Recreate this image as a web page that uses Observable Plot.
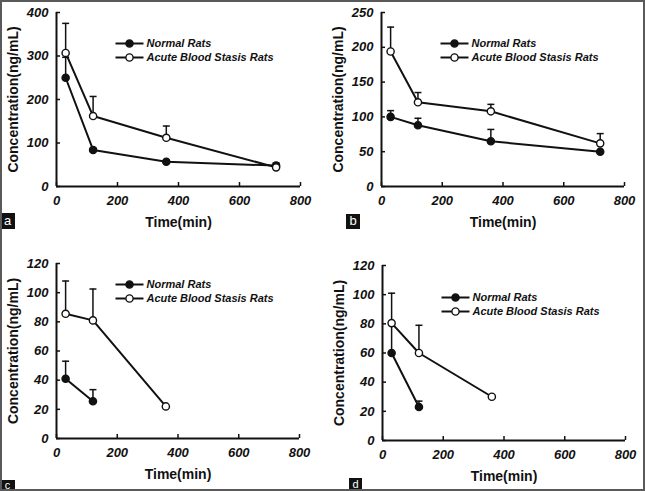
<!DOCTYPE html>
<html>
<head>
<meta charset="utf-8">
<script src="https://cdn.jsdelivr.net/npm/d3@7"></script>
<script src="https://cdn.jsdelivr.net/npm/@observablehq/plot@0.6"></script>
<style>
  html, body { margin: 0; padding: 0; background: #fff; }
  #fig { position: relative; width: 645px; height: 491px; overflow: hidden; background: #fff; font-family: "Liberation Sans", Arial, sans-serif; }
  .panel { position: absolute; }
  .frame { position: absolute; left: 0; top: 0; width: 645px; height: 491px; box-sizing: border-box; border: 2px solid #5a5a5a; pointer-events: none; }
  .tag { position: absolute; background: #111; color: #fff; font-size: 13px; line-height: 15px; text-align: center; font-family: "Liberation Sans", Arial, sans-serif; overflow: hidden; }
</style>
</head>
<body>
<div id="fig"></div>
<script>
// ---- data ----
const times = [30, 120, 360, 720];
const xTicks = [0, 200, 400, 600, 800];
const seriesNames = ["Normal Rats", "Acute Blood Stasis Rats"];

// panel a
const aNormal = [250, 84, 57, 48];
const aNormalErr = [297, 88, 60, 54];
const aAcute = [307, 162, 112, 44];
const aAcuteErr = [375, 207, 139, 46];
const aTicks = [0, 100, 200, 300, 400];

// panel b
const bNormal = [100, 88, 65, 50];
const bNormalErr = [109, 98, 82, 51];
const bAcute = [194, 121, 108, 62];
const bAcuteErr = [229, 135, 118, 76];
const bTicks = [0, 50, 100, 150, 200, 250];

// panel c
const cNormal = [41, 25.5];
const cNormalErr = [53, 33.5];
const cAcute = [85.5, 81, 22];
const cAcuteErr = [108, 102.5, 22.5];
const cTicks = [0, 20, 40, 60, 80, 100, 120];

// panel d
const dNormal = [60, 23];
const dNormalErr = [79, 27];
const dAcute = [80.5, 60, 30];
const dAcuteErr = [101, 79, 31];
const dTicks = [0, 20, 40, 60, 80, 100, 120];

const panelLabels = ["a", "b", "c", "d"];

// ---- helpers ----
const ink = "#111";
const font = "Liberation Sans, Arial, sans-serif";
const rows = (vals, errs) => vals.map((v, i) => ({t: times[i], v, e: errs[i]}));
const capSymbol = {draw(ctx) { ctx.moveTo(-3.5, 0); ctx.lineTo(3.5, 0); }};
const legendLine = {draw(ctx) { ctx.moveTo(-14, 0); ctx.lineTo(14, 0); }};

function panel(cfg) {
  const nRows = rows(cfg.normal, cfg.normalErr);
  const aRows = rows(cfg.acute, cfg.acuteErr);
  const all = nRows.concat(aRows);
  const lx = 73, ty = cfg.legendTop;
  const legend = (name, dy, filled) => [
    Plot.dot([name], {frameAnchor: "top-left", dx: lx, dy, symbol: legendLine, stroke: ink, strokeWidth: 2, fill: "none"}),
    Plot.dot([name], {frameAnchor: "top-left", dx: lx, dy, r: 3.6, fill: filled ? ink : "white", stroke: ink, strokeWidth: 1.4}),
    Plot.text([name], {frameAnchor: "top-left", dx: lx + 17, dy, text: d => d, textAnchor: "start", lineAnchor: "middle", fontSize: 11, fontWeight: "bold", fontStyle: "italic", fill: ink})
  ];
  return Plot.plot({
    width: cfg.width, height: 245,
    marginLeft: cfg.ml, marginRight: cfg.mr, marginTop: cfg.mt, marginBottom: cfg.mb,
    x: {domain: [0, 800]},
    y: {domain: [0, cfg.ticks[cfg.ticks.length - 1]]},
    style: {fontFamily: font, color: ink, background: "transparent", overflow: "visible"},
    marks: [
      Plot.axisX({ticks: xTicks, tickSize: -4, tickPadding: 13, label: null, fontSize: 13, fontWeight: "bold", fontStyle: "italic", strokeWidth: 1.5}),
      Plot.axisY({ticks: cfg.ticks, tickSize: -4, tickPadding: 12, label: null, fontSize: 13, fontWeight: "bold", fontStyle: "italic", strokeWidth: 1.5}),
      Plot.ruleY([0], {stroke: ink, strokeWidth: 2}),
      Plot.ruleX([0], {stroke: ink, strokeWidth: 2}),
      Plot.text(["Time(min)"], {frameAnchor: "bottom", dy: 36, text: d => d, textAnchor: "middle", lineAnchor: "middle", fontSize: 14, fontWeight: "bold", fill: ink}),
      Plot.text(["Concentration(ng/mL)"], {frameAnchor: "left", dx: -43, rotate: -90, text: d => d, textAnchor: "middle", lineAnchor: "middle", fontSize: 14, fontWeight: "bold", fill: ink}),
      Plot.ruleX(all, {x: "t", y1: "v", y2: "e", stroke: ink, strokeWidth: 1.5}),
      Plot.dot(all, {x: "t", y: "e", symbol: capSymbol, stroke: ink, strokeWidth: 1.5, fill: "none"}),
      Plot.line(nRows, {x: "t", y: "v", stroke: ink, strokeWidth: 2}),
      Plot.line(aRows, {x: "t", y: "v", stroke: ink, strokeWidth: 2}),
      Plot.dot(nRows, {x: "t", y: "v", r: 3.6, fill: ink, stroke: ink, strokeWidth: 1.4}),
      Plot.dot(aRows, {x: "t", y: "v", r: 3.6, fill: "white", stroke: ink, strokeWidth: 1.4}),
      ...legend(seriesNames[0], ty, true),
      ...legend(seriesNames[1], ty + 14, false)
    ]
  });
}

const configs = [
  {left: 0, top: 0, width: 322, ml: 56, mr: 22, mt: 12, mb: 59, normal: aNormal, normalErr: aNormalErr, acute: aAcute, acuteErr: aAcuteErr, ticks: aTicks, legendTop: 31},
  {left: 322, top: 0, width: 323, ml: 59, mr: 21, mt: 12, mb: 59, normal: bNormal, normalErr: bNormalErr, acute: bAcute, acuteErr: bAcuteErr, ticks: bTicks, legendTop: 31},
  {left: 0, top: 245, width: 322, ml: 56, mr: 23, mt: 18, mb: 52, normal: cNormal, normalErr: cNormalErr, acute: cAcute, acuteErr: cAcuteErr, ticks: cTicks, legendTop: 21},
  {left: 322, top: 245, width: 323, ml: 60, mr: 20, mt: 20, mb: 50, normal: dNormal, normalErr: dNormalErr, acute: dAcute, acuteErr: dAcuteErr, ticks: dTicks, legendTop: 32}
];

const fig = document.getElementById("fig");
configs.forEach(cfg => {
  const wrap = document.createElement("div");
  wrap.className = "panel";
  wrap.style.left = cfg.left + "px";
  wrap.style.top = cfg.top + "px";
  wrap.appendChild(panel(cfg));
  fig.appendChild(wrap);
});

const tags = [
  {left: 0, top: 213, w: 15, h: 16, lh: 15},
  {left: 346, top: 214, w: 14, h: 15, lh: 14},
  {left: 0, top: 480, w: 15, h: 11, lh: 11},
  {left: 349, top: 478, w: 13, h: 13, lh: 13}
];
tags.forEach((t, i) => {
  const el = document.createElement("div");
  el.className = "tag";
  el.style.left = t.left + "px";
  el.style.top = t.top + "px";
  el.style.width = t.w + "px";
  el.style.height = t.h + "px";
  el.style.lineHeight = t.lh + "px";
  if (i >= 2) el.style.fontSize = "11px";
  el.textContent = panelLabels[i];
  fig.appendChild(el);
});

const frame = document.createElement("div");
frame.className = "frame";
fig.appendChild(frame);
</script>
</body>
</html>
